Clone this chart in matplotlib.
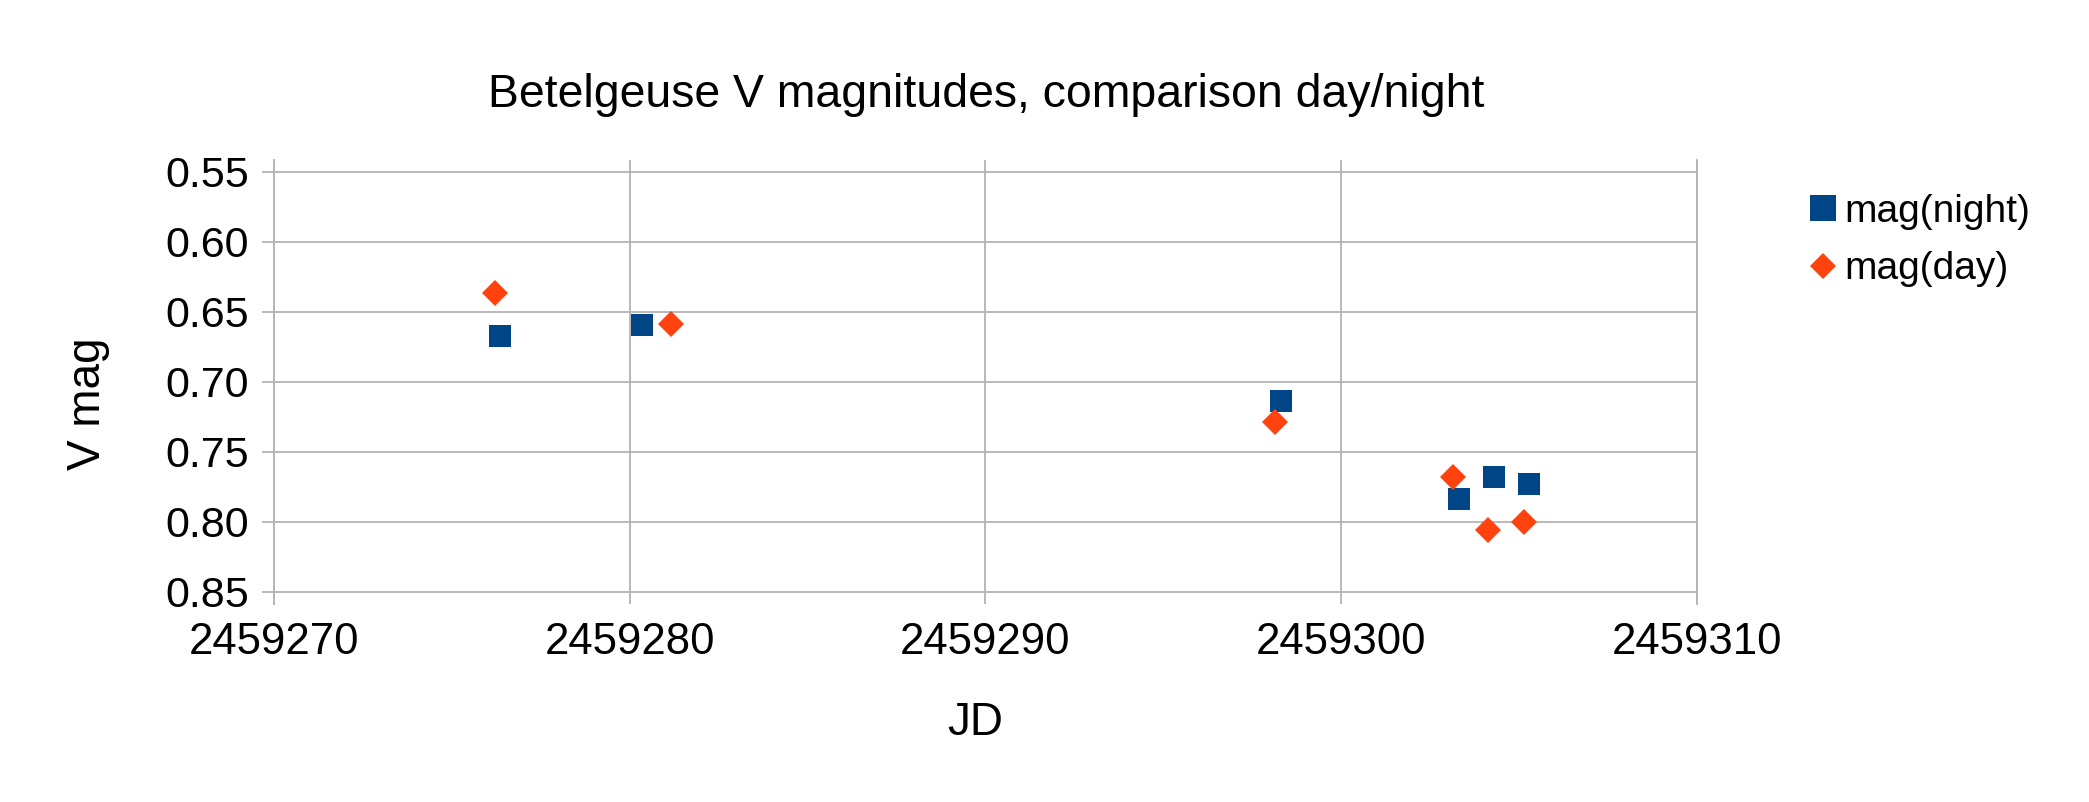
"""Betelgeuse V magnitudes, day vs night comparison."""

import matplotlib

matplotlib.use("Agg")
import matplotlib.pyplot as plt
from matplotlib.ticker import FormatStrFormatter, MultipleLocator

plt.rcParams["font.family"] = ["Liberation Sans", "DejaVu Sans"]

# Data
jd_night = [2459276.36, 2459280.36, 2459298.31, 2459303.30, 2459304.30, 2459305.29]
mag_night = [0.667, 0.6595, 0.714, 0.7835, 0.768, 0.773]

jd_day = [2459276.22, 2459281.17, 2459298.15, 2459303.14, 2459304.13, 2459305.14]
mag_day = [0.6365, 0.6585, 0.729, 0.768, 0.806, 0.800]

BLUE = "#004586"
ORANGE = "#ff420e"
GRID = "#b3b3b3"

W, H = 2089, 802
fig = plt.figure(figsize=(W / 100, H / 100), dpi=100)

# Axes box in pixels (top/bottom include the small overshoot of the grid)
left, right, top, bottom = 273.7, 1697, 159.7, 603.7
ax = fig.add_axes([left / W, 1 - bottom / H, (right - left) / W, (bottom - top) / H])

ax.plot(jd_night, mag_night, linestyle="none", marker="s", markersize=15.8,
        markeredgewidth=0, color=BLUE, label="mag(night)", zorder=3)
ax.plot(jd_day, mag_day, linestyle="none", marker="D", markersize=12.9,
        markeredgewidth=0, color=ORANGE, label="mag(day)", zorder=3)

over = 12 / 1400  # 12 px in data units
ax.set_xlim(2459270, 2459310)
ax.set_ylim(0.85 + over, 0.55 - over)

ax.xaxis.set_major_locator(MultipleLocator(10))
ax.xaxis.set_major_formatter(FormatStrFormatter("%d"))
ax.yaxis.set_major_formatter(FormatStrFormatter("%.2f"))
ax.set_yticks([0.55, 0.60, 0.65, 0.70, 0.75, 0.80, 0.85])

ax.grid(True, color=GRID, linewidth=1.3)
ax.set_axisbelow(True)
ax.tick_params(axis="x", length=0, pad=13, labelsize=31.5)
ax.tick_params(axis="y", length=8.6, width=1.3, color=GRID, pad=9, labelsize=31)

for side in ("top", "bottom"):
    ax.spines[side].set_visible(False)
for side in ("left", "right"):
    ax.spines[side].set_color(GRID)
    ax.spines[side].set_linewidth(1.3)

fig.text(986 / W, 1 - 107 / H, "Betelgeuse V magnitudes, comparison day/night",
         ha="center", va="baseline", fontsize=33.4)
fig.text(975 / W, 1 - 735 / H, "JD", ha="center", va="baseline", fontsize=33)
fig.text(100 / W, 1 - 404 / H, "V mag", ha="center", va="baseline", fontsize=33,
         rotation=90, rotation_mode="anchor")

leg = fig.legend(loc="upper left", bbox_to_anchor=(1804 / W, 1 - 194 / H),
                 frameon=False, fontsize=28, handlelength=1.0, handletextpad=0.05,
                 borderpad=0, borderaxespad=0, labelspacing=0.55)
leg.legend_handles[0].set_markersize(18.3)

fig.savefig("out.png", dpi=100)
